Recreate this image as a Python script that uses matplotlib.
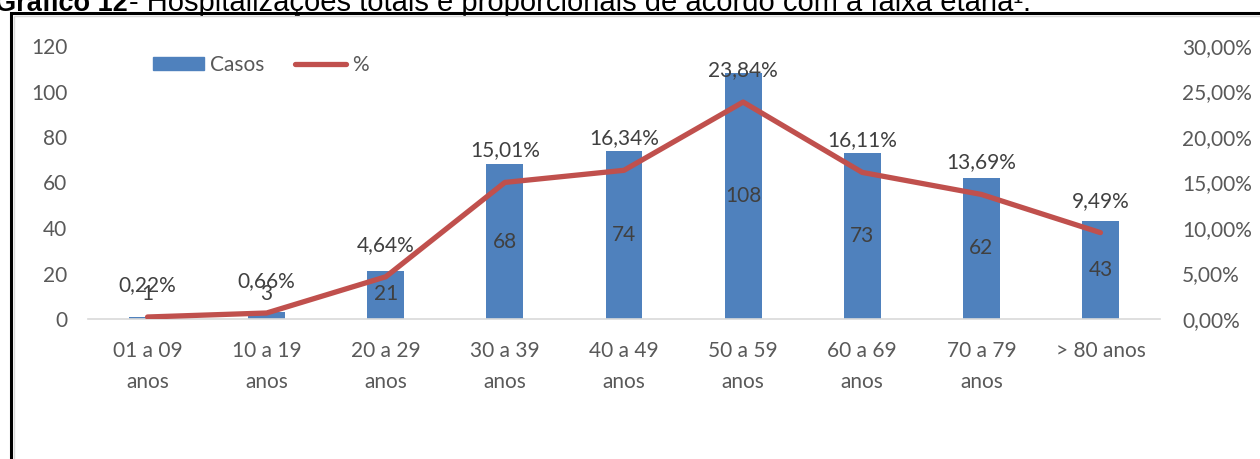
import matplotlib
matplotlib.use("Agg")
import matplotlib.pyplot as plt
from matplotlib.patches import Rectangle
from matplotlib.lines import Line2D

categories = ["01 a 09\nanos", "10 a 19\nanos", "20 a 29\nanos", "30 a 39\nanos", "40 a 49\nanos",
              "50 a 59\nanos", "60 a 69\nanos", "70 a 79\nanos", "> 80 anos"]
casos = [1, 3, 21, 68, 74, 108, 73, 62, 43]
pct = [0.22, 0.66, 4.64, 15.01, 16.34, 23.84, 16.11, 13.69, 9.49]
left_ticks = [0, 20, 40, 60, 80, 100, 120]
right_ticks = [0, 5, 10, 15, 20, 25, 30]

BLUE = "#4f81bd"
RED = "#c0504d"
TXT = "#595959"
FONT = "Lato"
FS = 15

W, H = 1260, 459
fig = plt.figure(figsize=(W / 100, H / 100), dpi=100)

def fx(px):
    return px / W

def fy(py):
    return 1 - py / H

# outer frames
fig.add_artist(Rectangle((fx(14), fy(470)), fx(1300), fy(16) - fy(470), transform=fig.transFigure,
                         fill=False, edgecolor="#d9d9d9", linewidth=1))
fig.add_artist(Rectangle((fx(10.5), fy(470)), fx(1300), fy(12.5) - fy(470), transform=fig.transFigure,
                         fill=False, edgecolor="black", linewidth=2.2))

# title (partially cut off at top)
fig.text(fx(128), fy(11), "Gráfico 12", ha="right", va="baseline", fontsize=19.5,
         fontweight="bold", family="Liberation Sans", color="black", zorder=0)
fig.text(fx(129), fy(11), "- Hospitalizações totais e proporcionais de acordo com a faixa etária¹.",
         ha="left", va="baseline", fontsize=21, family="Liberation Sans", color="black", zorder=0)

ax = fig.add_axes([fx(88), fy(319), fx(1160) - fx(88), fy(46) - fy(319)])
x = list(range(len(categories)))
ax.bar(x, casos, width=0.31, color=BLUE, zorder=2, label="Casos")
ax.set_xlim(-0.5, len(categories) - 0.5)
ax.set_ylim(0, 120)
ax.set_yticks(left_ticks)
ax.set_yticklabels([str(t) for t in left_ticks], fontsize=FS, color=TXT, family=FONT)
ax.set_xticks(x)
ax.set_xticklabels(categories, fontsize=FS, color=TXT, family=FONT, linespacing=1.65)
ax.tick_params(axis="y", length=0, pad=15)
ax.tick_params(axis="x", length=0, pad=16)
for s in ["top", "right", "left"]:
    ax.spines[s].set_visible(False)
ax.spines["bottom"].set_color("#d9d9d9")
ax.spines["bottom"].set_linewidth(1.2)
ax.patch.set_alpha(0)

for xi, v in zip(x, casos):
    ax.text(xi, max(v / 2, 11), str(v), ha="center", va="center", fontsize=FS, color="#404040",
            family=FONT, zorder=5)

ax2 = ax.twinx()
ax2.plot(x, pct, color=RED, linewidth=3.8, solid_capstyle="round", solid_joinstyle="round",
         zorder=3, label="%")
ax2.set_ylim(0, 30)
ax2.set_yticks(right_ticks)
ax2.set_yticklabels([f"{t:.2f}".replace(".", ",") + "%" for t in right_ticks], fontsize=FS,
                    color=TXT, family=FONT)
ax2.tick_params(axis="y", length=0, pad=16)
for s in ["top", "right", "left", "bottom"]:
    ax2.spines[s].set_visible(False)

for xi, p in zip(x, pct):
    ax2.annotate(f"{p:.2f}".replace(".", ",") + "%", (xi, p), xytext=(0, 23),
                 textcoords="offset points", ha="center", va="center", fontsize=FS,
                 color="#404040", family=FONT, zorder=6)

handles = [Rectangle((0, 0), 1, 1, color=BLUE), Line2D([0], [0], color=RED, linewidth=3.8,
                                                        solid_capstyle="round")]
leg = fig.legend(handles, ["Casos", "%"], loc="center", bbox_to_anchor=(fx(261), fy(65)),
                 ncol=2, frameon=False, handlelength=2.45, handleheight=0.6, columnspacing=1.45,
                 handletextpad=0.3, borderpad=0, prop={"family": FONT, "size": FS})
for t in leg.get_texts():
    t.set_color(TXT)

fig.savefig("out.png", dpi=100)
